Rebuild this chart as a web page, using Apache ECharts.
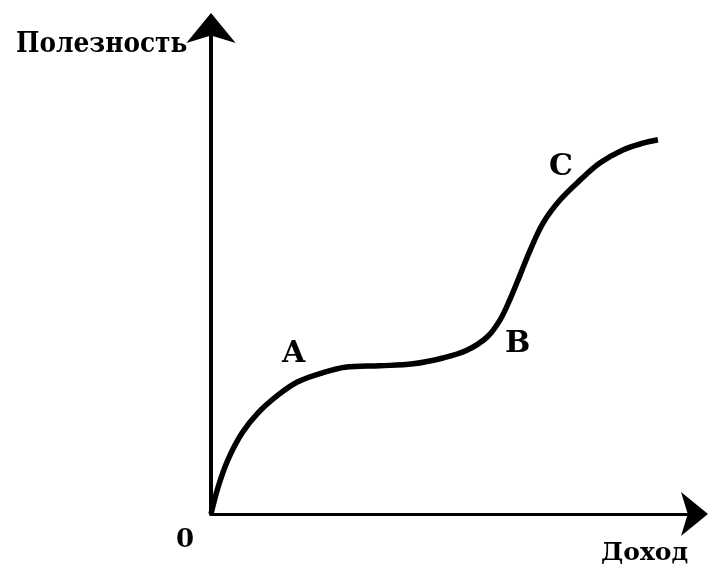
<!DOCTYPE html>
<html>
<head>
<meta charset="utf-8">
<script src="https://cdn.jsdelivr.net/npm/echarts@6/dist/echarts.min.js"></script>
<style>html,body{margin:0;padding:0;background:#fff}#c{width:720px;height:570px}</style>
</head>
<body>
<div id="c"></div>
<script>
// Utility curve (income -> utility)
var income  = [0, 1.5, 3.5, 6.5, 9.8, 14.0, 18.1, 23.1, 27.9, 35.2, 42.1, 48.3, 53.3, 57.5, 60.2, 62.3, 64.4, 66.5, 69.2, 72.7, 76.9, 81.0, 85.8, 90.0, 93.1];
var utility = [0, 5.6, 11.1, 16.7, 20.8, 24.5, 27.2, 29.0, 30.2, 30.5, 30.9, 32.1, 33.7, 36.4, 39.9, 44.2, 49.2, 54.3, 59.9, 64.6, 68.7, 72.2, 74.9, 76.3, 77.0];
// Point labels
var pointNames = ['A', 'B', 'C'];
var pointX = [17.2, 63.9, 72.9];
var pointY = [32.9, 35.0, 71.4];
var yTitle = 'Полезность';
var xTitle = 'Доход';
var originLabel = '0';

var curve = income.map(function (x, i) { return [x, utility[i]]; });
var pts = pointNames.map(function (n, i) { return { value: [pointX[i], pointY[i]], name: n }; });

var font = '"DejaVu Serif", "Liberation Serif", serif';
var chart = echarts.init(document.getElementById('c'), null, { renderer: 'canvas' });
chart.setOption({
  animation: false,
  backgroundColor: '#fff',
  grid: { left: 211, right: 29, top: 28, bottom: 56 },
  xAxis: {
    type: 'value', min: 0, max: 100,
    axisLine: { show: true, lineStyle: { color: '#000', width: 3 }, symbol: ['none', 'arrow'], symbolSize: [33, 27], symbolOffset: [0, 17] },
    axisTick: { show: false }, axisLabel: { show: false }, splitLine: { show: false }
  },
  yAxis: {
    type: 'value', min: 0, max: 100,
    axisLine: { show: true, lineStyle: { color: '#000', width: 4 }, symbol: ['none', 'arrow'], symbolSize: [37, 30], symbolOffset: [0, 15] },
    axisTick: { show: false }, axisLabel: { show: false }, splitLine: { show: false }
  },
  series: [
    {
      type: 'line', data: curve, smooth: 0.35, showSymbol: false,
      lineStyle: { color: '#000', width: 5.5 }
    },
    {
      type: 'scatter', data: pts, symbolSize: 0, itemStyle: { opacity: 1, color: '#000' },
      label: { show: true, position: 'inside', formatter: '{b}', color: '#000', opacity: 1,
        fontFamily: font, fontWeight: 'bold', fontSize: 30 }
    }
  ],
  graphic: [
    { type: 'text', x: 16, y: 45, scaleX: 0.92, style: { text: yTitle, font: 'bold 27px ' + font, fill: '#000', verticalAlign: 'middle' } },
    { type: 'text', x: 601, y: 553, style: { text: xTitle, font: 'bold 25px ' + font, fill: '#000', verticalAlign: 'middle' } },
    { type: 'text', x: 176, y: 540, style: { text: originLabel, font: 'bold 26px ' + font, fill: '#000', verticalAlign: 'middle' } }
  ]
});
</script>
</body>
</html>
